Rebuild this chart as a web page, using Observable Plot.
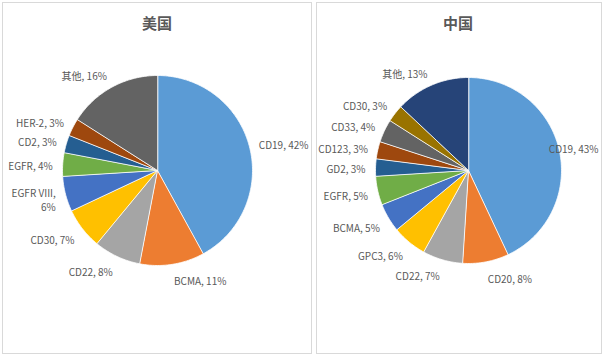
<!DOCTYPE html>
<html><head><meta charset="utf-8">
<script src="https://cdn.jsdelivr.net/npm/d3@7"></script>
<script src="https://cdn.jsdelivr.net/npm/@observablehq/plot@0.6"></script>
<style>
body{margin:0;background:#fff;}
#wrap{position:relative;width:604px;height:360px;overflow:hidden;font-family:"Noto Sans CJK SC",sans-serif;}
.panel{position:absolute;border:1px solid #d9d9d9;box-sizing:border-box;}
.title{position:absolute;transform:translate(-50%,-50%);font-size:15px;color:#595959;font-weight:bold;white-space:nowrap;}
.plot{position:absolute;}
</style></head><body><div id="wrap"></div>
<script>
// ---- data ----
const titles = ["美国", "中国"];
const usLabels = ["CD19", "BCMA", "CD22", "CD30", "EGFR VIII", "EGFR", "CD2", "HER-2", "其他"];
const usValues = [42, 11, 8, 7, 6, 4, 3, 3, 16];
const usColors = ["#5b9bd5", "#ed7d31", "#a5a5a5", "#ffc000", "#4472c4", "#70ad47", "#255e91", "#9e480e", "#636363"];
const cnLabels = ["CD19", "CD20", "CD22", "GPC3", "BCMA", "EGFR", "GD2", "CD123", "CD33", "CD30", "其他"];
const cnValues = [43, 8, 7, 6, 5, 5, 3, 3, 4, 3, 13];
const cnColors = ["#5b9bd5", "#ed7d31", "#a5a5a5", "#ffc000", "#4472c4", "#70ad47", "#255e91", "#9e480e", "#636363", "#997300", "#264478"];

// ---- layout ----
const FONT = '"Noto Sans CJK SC", sans-serif';
const LABEL_SIZE = 10;
const panels = [
  {left: 2, top: 2, w: 310, h: 352, cx: 157, cy: 170, r: 95, titleX: 157, titleY: 22},
  {left: 316, top: 2, w: 286, h: 352, cx: 468, cy: 170, r: 93, titleX: 458, titleY: 22}
];

const canvas = document.createElement("canvas");
const ctx = canvas.getContext("2d");
ctx.font = `${LABEL_SIZE}px ${FONT}`;
const measure = t => ctx.measureText(t).width;

const wrap = document.getElementById("wrap");

function drawPie(cfg, title, labels, values, colors) {
  const box = document.createElement("div");
  box.className = "panel";
  Object.assign(box.style, {left: cfg.left + "px", top: cfg.top + "px", width: cfg.w + "px", height: cfg.h + "px"});
  wrap.appendChild(box);

  const total = d3.sum(values);
  const W = cfg.w, H = cfg.h, r = cfg.r;
  const cxs = cfg.cx - cfg.left, cys = cfg.cy - cfg.top;
  const slices = [], startLabels = [], endLabels = [];
  let cum = 0;
  labels.forEach((name, i) => {
    const a0 = cum / total * 2 * Math.PI;
    cum += values[i];
    const a1 = cum / total * 2 * Math.PI;
    slices.push({name, x: 0, y: 0});
    const n = Math.max(2, Math.ceil((a1 - a0) / (Math.PI / 180)));
    for (let k = 0; k <= n; k++) {
      const a = a0 + (a1 - a0) * k / n;
      slices.push({name, x: Math.sin(a), y: Math.cos(a)});
    }
    const m = (a0 + a1) / 2, s = Math.sin(m), c = Math.cos(m);
    let px = cxs + (r + 10) * s;
    const py = cys - (r + 10) * c + 1.5 - 5 * c;
    let text = `${name}, ${values[i]}%`;
    const wd = measure(text);
    if (s >= 0) {
      if (px + wd > W - 4) px = W - 4 - wd;
      startLabels.push({text, x: (px - cxs) / r, y: (cys - py) / r});
    } else {
      if (px - wd < 0) text = `${name},\n${values[i]}%`;
      endLabels.push({text, x: (px - cxs) / r, y: (cys - py) / r});
    }
  });

  const textOpts = {x: "x", y: "y", text: "text", fill: "#595959", fontSize: LABEL_SIZE, fontFamily: FONT, lineHeight: 1.45};
  const chart = Plot.plot({
    width: W, height: H, margin: 0,
    x: {domain: [-cxs / r, (W - cxs) / r], axis: null},
    y: {domain: [(cys - H) / r, cys / r], axis: null},
    color: {domain: labels, range: colors},
    style: {background: "transparent", overflow: "visible"},
    marks: [
      Plot.line(slices, {x: "x", y: "y", z: "name", fill: "name", stroke: "white", strokeWidth: 0.8, curve: "linear-closed"}),
      Plot.text(startLabels, {...textOpts, textAnchor: "start"}),
      Plot.text(endLabels, {...textOpts, textAnchor: "end"})
    ]
  });
  chart.classList.add("plot");
  chart.style.left = cfg.left + "px";
  chart.style.top = cfg.top + "px";
  wrap.appendChild(chart);

  const t = document.createElement("div");
  t.className = "title";
  t.textContent = title;
  t.style.left = cfg.titleX + "px";
  t.style.top = cfg.titleY + "px";
  wrap.appendChild(t);
}

drawPie(panels[0], titles[0], usLabels, usValues, usColors);
drawPie(panels[1], titles[1], cnLabels, cnValues, cnColors);
</script>
</body></html>
